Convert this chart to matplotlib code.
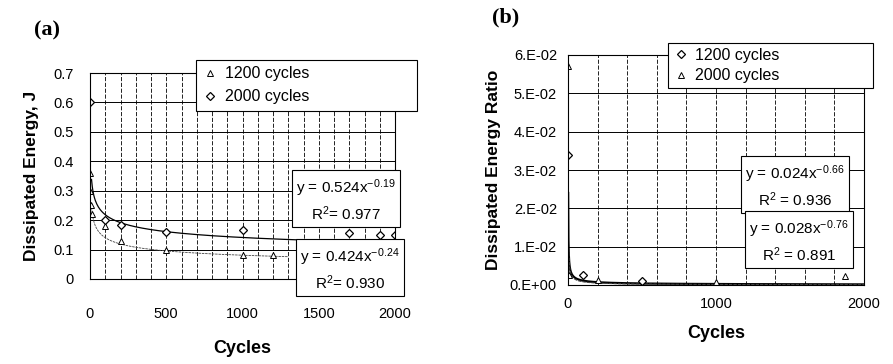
import matplotlib
matplotlib.use("Agg")
import matplotlib.pyplot as plt
import numpy as np
from matplotlib.ticker import MultipleLocator
from matplotlib.lines import Line2D

plt.rcParams['font.family'] = ['Liberation Sans', 'DejaVu Sans']
plt.rcParams['mathtext.fontset'] = 'custom'
plt.rcParams['mathtext.rm'] = 'Liberation Sans'
plt.rcParams['mathtext.it'] = 'Liberation Sans:italic'
plt.rcParams['mathtext.bf'] = 'Liberation Sans:bold'

# ---------------- data: panel (a) ----------------
a_1200_x = [1, 3, 6, 10, 100, 200, 500, 1000, 1200]
a_1200_y = [0.36, 0.30, 0.25, 0.22, 0.18, 0.13, 0.10, 0.08, 0.08]
a_2000_x = [1, 100, 200, 500, 1000, 1700, 1900, 2000]
a_2000_y = [0.60, 0.20, 0.185, 0.16, 0.165, 0.155, 0.15, 0.15]
a_fit_2000 = (0.524, -0.19)
a_fit_1200 = (0.424, -0.24)
a_eq_texts = ["y = 0.524x$^{-0.19}$\nR$^2$= 0.977",
              "y = 0.424x$^{-0.24}$\nR$^2$= 0.930"]
a_yticks = [0, 0.1, 0.2, 0.3, 0.4, 0.5, 0.6, 0.7]
a_yticklabels = ["0", "0.1", "0.2", "0.3", "0.4", "0.5", "0.6", "0.7"]
a_xticks = [0, 500, 1000, 1500, 2000]

# ---------------- data: panel (b) ----------------
b_1200_x = [1, 100, 500]
b_1200_y = [0.034, 0.0026, 0.0010]
b_2000_x = [1, 5, 200, 1000, 1870]
b_2000_y = [0.057, 0.0026, 0.0012, 0.0008, 0.0023]
b_fit_1200 = (0.024, -0.66)
b_fit_2000 = (0.028, -0.76)
b_eq_texts = ["y = 0.024x$^{-0.66}$\nR$^2$ = 0.936",
              "y = 0.028x$^{-0.76}$\nR$^2$ = 0.891"]
b_yticks = [0, 0.01, 0.02, 0.03, 0.04, 0.05, 0.06]
b_yticklabels = ["0.E+00", "1.E-02", "2.E-02", "3.E-02", "4.E-02", "5.E-02", "6.E-02"]
b_xticks = [0, 1000, 2000]

W, H = 893, 364
fig = plt.figure(figsize=(W / 100, H / 100), dpi=100)

def fx(px):
    return px / W

def fy(py):
    return 1 - py / H

tri = dict(marker='^', markersize=4.5, markerfacecolor='white', markeredgecolor='black',
           markeredgewidth=0.7, linestyle='none')
dia = dict(marker='D', markersize=3.6, markerfacecolor='white', markeredgecolor='black',
           markeredgewidth=0.9, linestyle='none')

# ---------------- panel (a) ----------------
axa = fig.add_axes([fx(90), fy(279), fx(395) - fx(90), fy(73) - fy(279)])
axa.set_xlim(0, 2000)
axa.set_ylim(0, 0.7)
axa.xaxis.set_minor_locator(MultipleLocator(100))
axa.grid(True, which='major', axis='y', color='black', linewidth=0.7)
axa.grid(True, which='both', axis='x', color='black', linewidth=0.6, linestyle=(0, (5, 2)))
axa.set_yticks(a_yticks)
axa.set_yticklabels(a_yticklabels)
axa.set_xticks(a_xticks)
axa.tick_params(axis='both', which='both', length=0, labelsize=10.5)
axa.tick_params(axis='y', pad=12)
axa.tick_params(axis='x', pad=20)
for s in axa.spines.values():
    s.set_linewidth(0.8)

xf = np.linspace(10, 2000, 400)
axa.plot(xf, a_fit_2000[0] * xf ** a_fit_2000[1], color='black', linewidth=0.9)
xf2 = np.linspace(10, 1300, 400)
axa.plot(xf2, a_fit_1200[0] * xf2 ** a_fit_1200[1], color='#444444', linewidth=0.6, linestyle=(0, (3, 1)))
axa.plot(a_1200_x, a_1200_y, **tri)
axa.plot(a_2000_x, a_2000_y, **dia)
axa.set_ylabel("Dissipated Energy, J", fontsize=12.5, fontweight='bold', labelpad=10)
axa.set_xlabel("Cycles", fontsize=13, fontweight='bold', labelpad=14)

h1 = Line2D([], [], **tri)
h2 = Line2D([], [], **dia)
lega = fig.legend([h1, h2], ["1200 cycles", "2000 cycles"],
                  loc='upper left', bbox_to_anchor=(fx(196), fy(60), fx(417) - fx(196), 0),
                  mode='expand', fontsize=11.5, frameon=True, fancybox=False,
                  edgecolor='black', framealpha=1, handlelength=1.0, handletextpad=0.4,
                  borderpad=0.4, labelspacing=0.5, borderaxespad=0)
lega.get_frame().set_linewidth(0.8)

for txt, (cx, cy) in zip(a_eq_texts, [(346, 200), (350, 269)]):
    fig.text(fx(cx), fy(cy), txt, ha='center', va='center', fontsize=11, linespacing=1.35,
             bbox=dict(boxstyle='square,pad=0.25', facecolor='white', edgecolor='black', linewidth=0.8))

fig.text(fx(47), fy(30), "(a)", ha='center', va='center', fontsize=16, fontweight='bold',
         family=['Liberation Serif', 'DejaVu Serif'])

# ---------------- panel (b) ----------------
axb = fig.add_axes([fx(568), fy(285), fx(864) - fx(568), fy(55) - fy(285)])
axb.set_xlim(0, 2000)
axb.set_ylim(0, 0.06)
axb.xaxis.set_minor_locator(MultipleLocator(200))
axb.grid(True, which='major', axis='y', color='black', linewidth=0.7)
axb.grid(True, which='both', axis='x', color='black', linewidth=0.6, linestyle=(0, (5, 2)))
axb.set_yticks(b_yticks)
axb.set_yticklabels(b_yticklabels)
axb.set_xticks(b_xticks)
axb.tick_params(axis='both', which='both', length=0, labelsize=10.5)
axb.tick_params(axis='y', pad=8)
axb.tick_params(axis='x', pad=9)
for s in axb.spines.values():
    s.set_linewidth(0.8)

xb = np.linspace(1, 2000, 2000)
axb.plot(xb, b_fit_1200[0] * xb ** b_fit_1200[1], color='black', linewidth=1.6)
axb.plot(xb, b_fit_2000[0] * xb ** b_fit_2000[1], color='#444444', linewidth=0.8, linestyle=(0, (3, 1)))
axb.plot(b_1200_x, b_1200_y, **dia)
axb.plot(b_2000_x, b_2000_y, **tri)
axb.set_ylabel("Dissipated Energy Ratio", fontsize=12.5, fontweight='bold', labelpad=6)
axb.set_xlabel("Cycles", fontsize=13, fontweight='bold', labelpad=10)

legb = fig.legend([Line2D([], [], **dia), Line2D([], [], **tri)], ["1200 cycles", "2000 cycles"],
                  loc='upper left', bbox_to_anchor=(fx(668), fy(43), fx(873) - fx(668), 0),
                  mode='expand', fontsize=11.5, frameon=True, fancybox=False,
                  edgecolor='black', framealpha=1, handlelength=1.0, handletextpad=0.4,
                  borderpad=0.3, labelspacing=0.35, borderaxespad=0)
legb.get_frame().set_linewidth(0.8)

for txt, (cx, cy) in zip(b_eq_texts, [(795, 186), (799, 241)]):
    fig.text(fx(cx), fy(cy), txt, ha='center', va='center', fontsize=11, linespacing=1.35,
             bbox=dict(boxstyle='square,pad=0.25', facecolor='white', edgecolor='black', linewidth=0.8))

fig.text(fx(506), fy(17), "(b)", ha='center', va='center', fontsize=16, fontweight='bold',
         family=['Liberation Serif', 'DejaVu Serif'])

fig.savefig("out.png", dpi=100)
